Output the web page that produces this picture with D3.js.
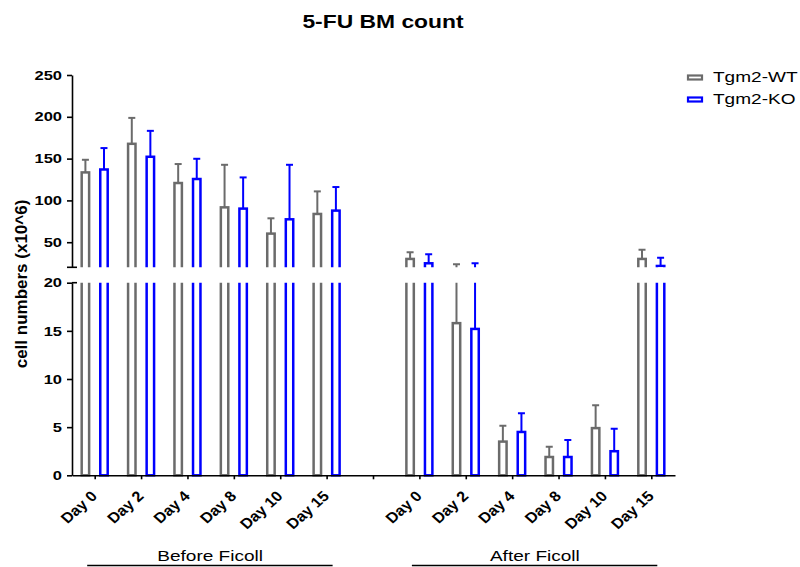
<!DOCTYPE html>
<html><head><meta charset="utf-8">
<script src="https://cdn.jsdelivr.net/npm/d3@7"></script>
<style>body{margin:0;background:#fff} text{font-family:"Liberation Sans",Arial,sans-serif;fill:#000}</style>
</head><body><svg id="c" width="800" height="567"></svg>
<script>
const title = "5-FU BM count";
const yTitle = "cell numbers (x10^6)";
const groups = ["Before Ficoll", "After Ficoll"];
const days = ["Day 0", "Day 2", "Day 4", "Day 8", "Day 10", "Day 15"];
const series = ["Tgm2-WT", "Tgm2-KO"];
const beforeWT = [133.5, 167.7, 120.8, 91.7, 60.3, 83.8];
const beforeWTsd = [15.1, 31, 22.7, 50.9, 18.3, 27];
const beforeKO = [137, 152.2, 125.6, 90.2, 77.4, 87.8];
const beforeKOsd = [25.6, 31, 24.2, 37.3, 65.2, 28.2];
const afterWT = [30, 15.8, 3.5, 1.9, 4.9, 30];
const afterWTsd = [8, 7.8, 1.65, 1.07, 2.37, 11];
const afterKO = [24.8, 15.2, 4.5, 1.9, 2.5, 21.6];
const afterKOsd = [10.8, 9.6, 1.94, 1.77, 2.34, 9.9];
const topTicks = [50, 100, 150, 200, 250];
const bottomTicks = [0, 5, 10, 15, 20];
const colors = ["#6b6b6b", "#0000ff"];

const SX = 1.27;
const svg = d3.select("#c");

const slots = [...days.map(d => "b|" + d), "gap", ...days.map(d => "a|" + d)];
const x = d3.scaleBand().domain(slots).range([72, 675]).padding(0);
const xs = d3.scaleBand().domain(series).range([-13.5, 12.5]).paddingInner(0.6);
const yTop = d3.scaleLinear().domain([20, 250]).range([267.3, 75]);
const yBot = d3.scaleLinear().domain([0, 20]).range([475.3, 282.7]);
const mid = s => x(s) + x.bandwidth() / 2;

const vals = { "b": [[beforeWT, beforeWTsd], [beforeKO, beforeKOsd]], "a": [[afterWT, afterWTsd], [afterKO, afterKOsd]] };
const recs = [];
["b", "a"].forEach(g => {
  days.forEach((d, i) => {
    series.forEach((s, j) => {
      recs.push({ slot: g + "|" + d, s, j, v: vals[g][j][0][i], sd: vals[g][j][1][i] });
    });
  });
});

const defs = svg.append("defs");
const segs = [
  { id: "clipTop", scale: yTop, lo: 20, hi: 250, y0: 0, y1: 267.3 },
  { id: "clipBot", scale: yBot, lo: 0, hi: 20, y0: 282.7, y1: 478 }
];
segs.forEach(sg => {
  defs.append("clipPath").attr("id", sg.id).append("rect")
    .attr("x", 0).attr("y", sg.y0).attr("width", 800).attr("height", sg.y1 - sg.y0);
  const g = svg.append("g").attr("clip-path", `url(#${sg.id})`);
  const cx = d => mid(d.slot) + xs(d.s) + xs.bandwidth() / 2;
  const barData = recs.filter(d => d.v > sg.lo);
  g.selectAll("rect.bar").data(barData).join("rect").attr("class", "bar")
    .attr("x", d => mid(d.slot) + xs(d.s))
    .attr("width", xs.bandwidth())
    .attr("y", d => sg.scale(Math.min(d.v, sg.hi + 3)))
    .attr("height", d => sg.scale(sg.lo === 0 ? 0 : sg.lo - 3) - sg.scale(Math.min(d.v, sg.hi + 3)))
    .attr("fill", "none").attr("stroke", d => colors[d.j]).attr("stroke-width", 2.5);
  const errData = recs.filter(d => d.v + d.sd > sg.lo && d.v < sg.hi);
  g.selectAll("line.err").data(errData).join("line").attr("class", "err")
    .attr("x1", cx).attr("x2", cx)
    .attr("y1", d => sg.scale(Math.max(d.v, sg.lo - 3)))
    .attr("y2", d => sg.scale(Math.min(d.v + d.sd, sg.hi + 3)))
    .attr("stroke", d => colors[d.j]).attr("stroke-width", 2);
  const capData = recs.filter(d => d.v + d.sd >= sg.lo && d.v + d.sd <= sg.hi);
  g.selectAll("line.cap").data(capData).join("line").attr("class", "cap")
    .attr("x1", d => cx(d) - 3.5).attr("x2", d => cx(d) + 3.5)
    .attr("y1", d => sg.scale(d.v + d.sd)).attr("y2", d => sg.scale(d.v + d.sd))
    .attr("stroke", d => colors[d.j]).attr("stroke-width", 2);
});

function styleAxis(g) {
  g.selectAll(".domain").attr("stroke", "#000").attr("stroke-width", 1.6);
  g.selectAll(".tick line").attr("stroke", "#000").attr("stroke-width", 1.6);
}
function styleYLabels(g) {
  g.selectAll(".tick text").attr("font-size", 13).attr("font-weight", "bold")
    .attr("font-family", "Liberation Sans, Arial, sans-serif")
    .attr("x", -10 / SX).attr("transform", `scale(${SX},1)`);
}
const gTop = svg.append("g").attr("transform", "translate(72,0)")
  .call(d3.axisLeft(yTop).tickValues(topTicks).tickSize(5).tickSizeOuter(0));
styleAxis(gTop); styleYLabels(gTop);
gTop.append("line").attr("x1", -5).attr("x2", 5).attr("y1", yTop(20)).attr("y2", yTop(20))
  .attr("stroke", "#000").attr("stroke-width", 1.6);
const gBot = svg.append("g").attr("transform", "translate(72,0)")
  .call(d3.axisLeft(yBot).tickValues(bottomTicks).tickSize(5).tickSizeOuter(0));
styleAxis(gBot); styleYLabels(gBot);
gBot.append("line").attr("x1", 0).attr("x2", 5).attr("y1", yBot(20)).attr("y2", yBot(20))
  .attr("stroke", "#000").attr("stroke-width", 1.6);

const gX = svg.append("g").attr("transform", `translate(0,${yBot(0)})`)
  .call(d3.axisBottom(x).tickSize(4).tickSizeOuter(0).tickFormat(""));
styleAxis(gX);

svg.append("g").selectAll("g").data(slots.filter(s => s !== "gap")).join("g")
  .attr("transform", s => `translate(${mid(s) + 3},497) scale(1.12,1) rotate(-45)`)
  .append("text").attr("text-anchor", "end").attr("font-size", 14.5).attr("font-weight", "bold")
  .text(s => s.split("|")[1]);

const groupSpan = [["b", groups[0]], ["a", groups[1]]];
groupSpan.forEach(([k, name]) => {
  const first = mid(k + "|" + days[0]), last = mid(k + "|" + days[days.length - 1]);
  const c = (first + last) / 2 - 1;
  svg.append("line").attr("x1", first - 8).attr("x2", last + 5.5).attr("y1", 565.5).attr("y2", 565.5)
    .attr("stroke", "#000").attr("stroke-width", 1.5);
  svg.append("g").attr("transform", `translate(${c},561) scale(${SX},1)`)
    .append("text").attr("text-anchor", "middle").attr("font-size", 15).text(name);
});

svg.append("g").attr("transform", `translate(383,28) scale(${SX},1)`)
  .append("text").attr("text-anchor", "middle").attr("font-size", 18).attr("font-weight", "bold").text(title);

svg.append("g").attr("transform", `translate(27,284) rotate(-90)`)
  .append("text").attr("text-anchor", "middle").attr("font-size", 17).attr("font-weight", "bold").text(yTitle);

const leg = svg.append("g").selectAll("g").data(series).join("g")
  .attr("transform", (d, i) => `translate(688,${75.5 + i * 22})`);
leg.append("rect").attr("x", 0).attr("y", 0).attr("width", 14).attr("height", 4)
  .attr("fill", "#fff").attr("stroke", (d, i) => colors[i]).attr("stroke-width", 2.2);
leg.append("g").attr("transform", `translate(25,6) scale(${SX},1)`)
  .append("text").attr("font-size", 15).text(d => d);
</script></body></html>
